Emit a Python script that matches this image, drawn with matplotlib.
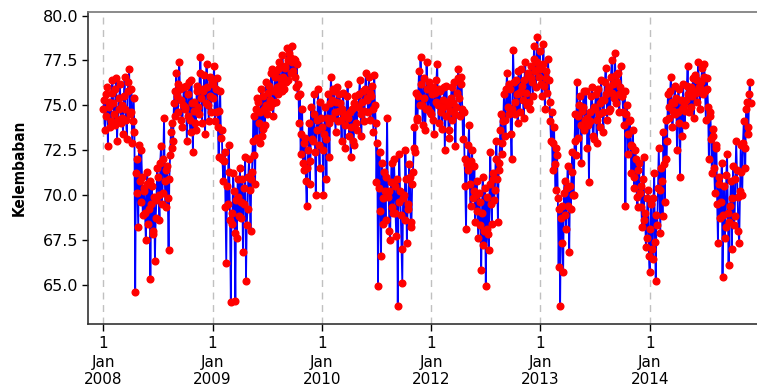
import numpy as np
import matplotlib
matplotlib.use("Agg")
import matplotlib.pyplot as plt
from matplotlib import font_manager

# humidity readings, 12 per month (2011 is missing from the record)
hum_2008 = [74.8, 75.3, 73.6, 74.4, 75.6, 76.0, 72.7, 74.9, 75.2, 73.8, 74.1, 75.7,
            76.4, 75.1, 74.5, 73.9, 75.9, 76.5, 73.0, 74.2, 74.8, 75.4, 76.2, 74.0,
            75.0, 74.3, 73.4, 75.5, 76.6, 74.8, 74.2, 73.1, 75.8, 76.3, 77.0, 74.5,
            74.6, 75.9, 72.9, 74.1, 75.4, 73.5, 64.6, 71.2, 72.0, 70.1, 68.2, 72.8,
            70.8, 69.6, 72.5, 71.0, 68.9, 70.4, 70.2, 69.0, 67.5, 70.6, 71.3, 68.4,
            69.2, 70.8, 65.3, 69.5, 70.5, 67.8, 68.0, 69.9, 66.3, 68.7, 69.7, 71.5,
            71.0, 70.0, 68.6, 71.8, 72.7, 69.5, 70.1, 72.0, 74.3, 70.8, 69.3, 71.4,
            71.6, 69.8, 66.9, 70.9, 72.2, 73.5, 74.0, 72.6, 73.0, 75.1, 75.8, 74.4,
            76.8, 75.5, 74.6, 76.2, 77.4, 75.9, 75.3, 74.2, 73.8, 75.0, 76.0, 74.8,
            74.9, 76.1, 73.0, 74.4, 75.6, 76.3, 74.2, 73.5, 76.4, 75.1, 72.4, 74.7,
            75.2, 74.0, 73.6, 75.8, 76.1, 74.9, 74.5, 76.8, 77.7, 75.4, 74.0, 75.9,
            75.8, 76.7, 73.4, 75.1, 77.3, 76.0, 75.0, 74.1, 76.6, 75.5, 74.6, 76.3]
hum_2009 = [75.4, 76.2, 77.2, 74.1, 74.6, 75.9, 76.5, 73.8, 72.1, 74.7, 75.8, 73.2,
            73.6, 72.0, 70.8, 71.9, 72.4, 69.3, 66.2, 70.5, 69.5, 72.8, 71.3, 68.6,
            64.0, 69.0, 68.4, 71.2, 70.2, 67.9, 64.1, 69.7, 67.6, 70.9, 69.9, 68.8,
            71.5, 69.6, 68.7, 70.9, 66.8, 69.5, 70.4, 72.1, 65.2, 68.3, 69.2, 71.0,
            72.0, 70.3, 68.0, 70.9, 71.3, 73.0, 74.4, 72.2, 70.6, 74.8, 73.2, 75.4,
            75.2, 74.0, 72.9, 74.6, 75.9, 73.3, 73.7, 75.5, 74.8, 73.9, 76.3, 75.0,
            74.5, 75.7, 76.1, 74.9, 75.3, 76.8, 77.0, 75.1, 74.4, 75.8, 76.6, 75.2,
            76.9, 76.0, 75.6, 77.1, 77.4, 76.5, 76.2, 75.8, 77.8, 76.6, 75.9, 77.2,
            77.1, 76.3, 78.2, 77.5, 76.4, 77.9, 77.7, 76.8, 78.3, 77.4, 76.9, 77.6,
            77.5, 76.6, 76.0, 77.3, 75.5, 76.2, 74.0, 75.6, 72.3, 73.4, 74.8, 71.8,
            71.4, 72.9, 73.2, 70.8, 69.4, 71.5, 72.5, 74.0, 70.6, 71.9, 74.9, 73.1,
            73.0, 74.5, 75.6, 72.4, 70.0, 73.6, 74.2, 75.9, 72.8, 71.5, 75.2, 74.3]
hum_2010 = [73.8, 72.5, 70.0, 73.4, 74.9, 73.1, 70.9, 74.3, 75.6, 74.0, 72.1, 75.1,
            76.6, 75.3, 74.3, 75.9, 75.8, 74.6, 73.5, 75.2, 76.0, 74.1, 74.7, 75.6,
            75.1, 74.2, 73.0, 74.8, 75.7, 74.5, 72.6, 73.9, 74.4, 75.5, 76.2, 74.3,
            73.3, 74.6, 72.1, 73.8, 74.8, 73.0, 72.8, 75.1, 75.5, 74.0, 73.6, 74.9,
            74.9, 75.6, 76.4, 74.5, 73.3, 75.2, 75.8, 74.7, 74.1, 75.9, 76.8, 75.3,
            75.4, 74.6, 76.6, 75.7, 74.2, 75.5, 76.1, 74.8, 73.5, 76.7, 75.0, 74.0,
            70.7, 72.9, 64.9, 70.4, 72.4, 69.1, 66.6, 71.8, 69.8, 68.4, 71.3, 70.2,
            68.6, 71.0, 74.3, 69.9, 70.2, 68.0, 67.5, 70.7, 71.8, 69.3, 69.0, 72.0,
            70.5, 69.0, 67.7, 70.9, 63.8, 69.6, 72.3, 70.2, 68.9, 67.0, 65.1, 69.8,
            70.0, 68.6, 72.5, 70.9, 67.3, 69.2, 69.5, 71.7, 71.0, 68.5, 68.2, 70.6,
            71.3, 72.6, 73.8, 72.4, 75.7, 74.3, 74.2, 75.5, 76.9, 75.0, 77.7, 76.2,
            75.0, 73.9, 76.5, 75.4, 73.6, 74.8, 77.4, 75.9, 74.8, 76.3, 76.0, 74.6]
hum_2012 = [74.5, 75.6, 76.0, 74.2, 73.4, 75.7, 75.2, 76.4, 77.3, 75.0, 74.0, 75.9,
            75.8, 74.6, 73.7, 75.3, 74.9, 76.0, 72.5, 74.4, 76.1, 75.2, 75.0, 73.6,
            73.2, 74.7, 75.4, 76.0, 74.2, 75.1, 76.3, 74.5, 72.7, 74.9, 75.7, 76.5,
            77.0, 75.4, 74.4, 76.2, 76.6, 74.8, 73.1, 74.6, 72.0, 70.5, 68.1, 71.7,
            71.4, 72.8, 73.9, 70.6, 69.4, 71.9, 72.5, 69.8, 70.2, 71.6, 68.5, 70.0,
            70.8, 69.1, 67.6, 70.1, 69.6, 68.3, 65.8, 69.0, 71.0, 67.2, 68.0, 70.4,
            64.9, 68.1, 69.9, 67.8, 66.9, 70.6, 72.4, 69.5, 68.4, 70.9, 71.2, 69.7,
            70.3, 72.0, 73.0, 70.9, 68.5, 71.4, 71.8, 73.6, 74.5, 72.3, 72.9, 74.1,
            75.6, 74.2, 73.3, 75.9, 76.8, 74.9, 74.5, 76.2, 75.9, 73.4, 72.0, 74.8,
            78.1, 76.3, 75.2, 74.5, 76.4, 75.6, 74.0, 76.9, 75.7, 74.6, 77.0, 75.8,
            76.1, 75.3, 74.3, 76.4, 77.4, 75.7, 75.0, 76.8, 76.7, 75.2, 74.8, 76.5,
            77.2, 76.3, 75.5, 77.6, 78.3, 76.9, 76.0, 77.4, 78.8, 77.0, 76.6, 78.0]
hum_2013 = [77.0, 76.2, 75.5, 77.3, 78.4, 76.1, 74.8, 76.9, 76.5, 75.7, 77.6, 76.4,
            75.2, 74.1, 73.0, 74.6, 71.4, 72.9, 73.8, 71.7, 70.3, 72.6, 72.2, 69.8,
            66.0, 69.2, 63.8, 68.7, 69.4, 67.3, 65.7, 70.1, 70.8, 68.9, 68.1, 70.4,
            71.6, 69.4, 66.8, 70.5, 69.2, 71.3, 72.4, 70.0, 70.0, 73.0, 74.5, 72.2,
            76.3, 74.4, 73.2, 75.0, 75.5, 73.9, 71.8, 74.7, 74.9, 75.8, 73.6, 74.2,
            75.8, 74.3, 72.6, 73.9, 70.7, 74.6, 74.1, 75.5, 76.0, 73.3, 73.1, 74.9,
            74.8, 75.6, 72.9, 74.2, 75.9, 74.5, 73.8, 75.1, 76.4, 75.3, 74.6, 73.5,
            75.3, 76.3, 77.1, 75.6, 74.2, 75.9, 76.0, 74.7, 74.8, 76.6, 77.5, 75.7,
            76.2, 75.4, 77.9, 76.7, 75.1, 76.3, 76.8, 75.6, 74.6, 76.0, 77.2, 75.5,
            75.5, 74.6, 73.9, 75.8, 69.4, 74.5, 75.0, 73.4, 72.3, 74.1, 74.2, 72.8,
            71.2, 72.7, 73.6, 71.0, 70.4, 72.5, 72.0, 69.9, 69.3, 71.4, 71.8, 70.1,
            70.5, 69.3, 68.2, 70.9, 72.1, 68.6, 69.0, 67.1, 67.6, 69.8, 70.3, 66.6]
hum_2014 = [65.7, 68.1, 69.5, 67.0, 66.4, 69.8, 71.2, 67.4, 65.2, 68.9, 68.3, 70.4,
            72.6, 70.3, 67.9, 71.5, 70.8, 68.8, 73.5, 71.7, 69.6, 74.2, 72.0, 73.0,
            75.6, 74.9, 74.3, 75.8, 76.6, 75.2, 73.8, 74.7, 75.1, 76.1, 74.5, 75.4,
            72.5, 74.6, 75.9, 74.0, 71.0, 75.3, 74.8, 73.3, 76.2, 75.0, 73.9, 74.7,
            75.3, 76.1, 77.2, 75.6, 74.6, 75.9, 76.0, 74.9, 75.5, 76.5, 74.3, 75.8,
            76.7, 75.7, 75.2, 76.4, 77.4, 76.0, 74.8, 75.9, 76.3, 77.1, 75.6, 76.6,
            77.3, 75.8, 74.2, 76.5, 75.9, 74.9, 72.0, 74.4, 74.6, 73.1, 71.2, 73.7,
            73.3, 71.5, 70.1, 72.8, 72.6, 69.5, 67.3, 70.6, 71.0, 68.7, 69.6, 71.8,
            65.4, 68.9, 70.5, 67.6, 68.2, 71.1, 72.3, 69.0, 66.1, 68.5, 69.4, 70.8,
            67.0, 69.8, 71.6, 68.3, 68.8, 70.9, 73.0, 71.4, 69.9, 68.0, 67.3, 70.2,
            72.8, 71.3, 70.0, 72.9, 74.1, 72.6, 71.5, 74.8, 75.2, 73.8, 73.4, 75.6,
            76.3, 75.1]

years = ['2008', '2009', '2010', '2012', '2013', '2014']
series = [hum_2008, hum_2009, hum_2010, hum_2012, hum_2013, hum_2014]
yticks = [65.0, 67.5, 70.0, 72.5, 75.0, 77.5, 80.0]

values = np.concatenate([np.array(s) for s in series])
x = np.arange(len(values))

tick_pos = []
start = 0
for s in series:
    tick_pos.append(start)
    start += len(s)
tick_labels = ["1\nJan\n" + y for y in years]

# condensed bold face for the y label when the system has one
label_props = font_manager.FontProperties(family='DejaVu Sans', weight='bold',
                                          stretch='condensed', size=11)
if 'Condensed' not in font_manager.findfont(label_props):
    label_props = font_manager.FontProperties(family='DejaVu Sans', weight='bold', size=9.5)

fig = plt.figure(figsize=(7.57, 3.89), dpi=100)
ax = fig.add_axes([88 / 757, 65 / 389, 672 / 757, 312 / 389])

ax.plot(x, values, color='blue', lw=1.3, zorder=2)
ax.plot(x, values, ls='none', marker='o', ms=4.8, color='red', zorder=3)

ax.set_xticks(tick_pos)
ax.set_xticklabels(tick_labels, fontsize=11, linespacing=1.25)
for p in tick_pos:
    ax.axvline(p, color='#c0c0c0', ls=(0, (5, 4)), lw=1, zorder=1)

ax.set_xlim(-20.2, 865.4)
ax.set_ylim(62.8, 80.2)
ax.set_yticks(yticks)
ax.set_yticklabels(['%.1f' % v for v in yticks], fontsize=11.5)
ax.tick_params(axis='x', length=5, width=1, pad=4)
ax.tick_params(axis='y', length=4, width=1, pad=3)

ax.set_ylabel('Kelembaban', fontproperties=label_props)
ax.yaxis.set_label_coords(-0.091, 0.5)

ax.spines['right'].set_visible(False)
ax.spines['top'].set_color('#777777')
ax.spines['left'].set_color('#333333')
ax.spines['bottom'].set_color('#333333')
for sp in ['top', 'left', 'bottom']:
    ax.spines[sp].set_linewidth(1.2)

fig.savefig('out.png', dpi=100)
